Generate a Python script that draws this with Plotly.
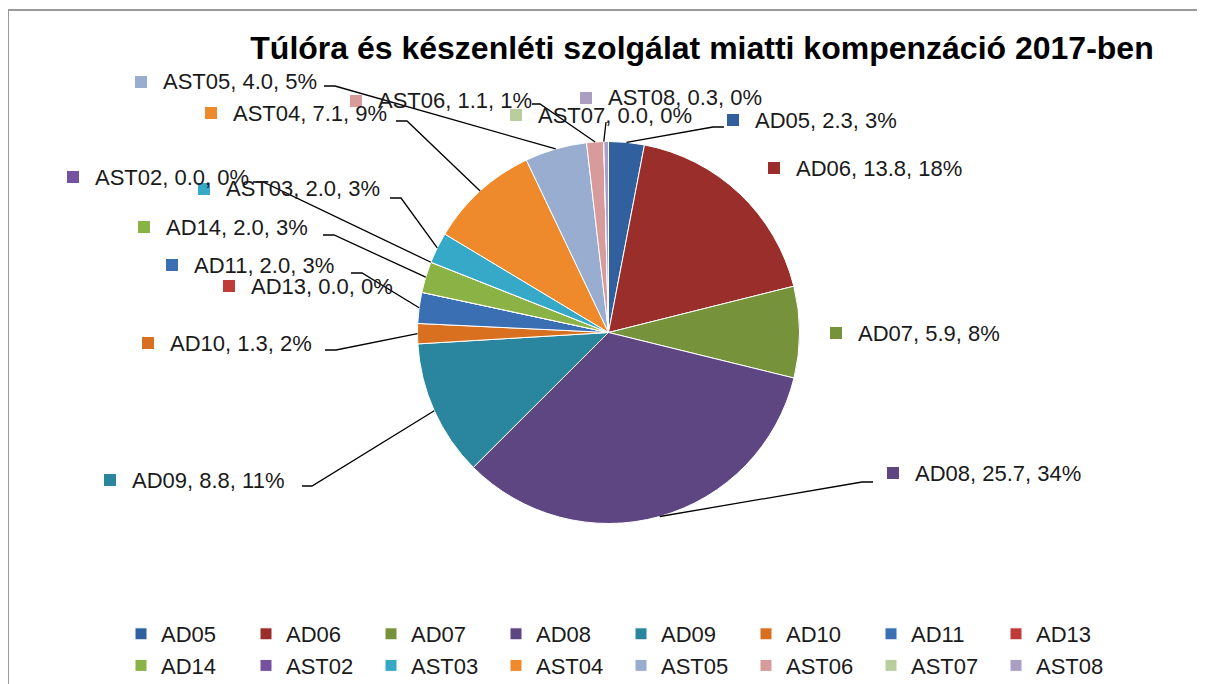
import math
import plotly.graph_objects as go

W, H = 1205, 684
ML, MR = 77, 78
PW = W - ML - MR
PAGE_OFF = 8  # default body margin of the html page

labels = ["AD05", "AD06", "AD07", "AD08", "AD09", "AD10", "AD11", "AD13",
          "AD14", "AST02", "AST03", "AST04", "AST05", "AST06", "AST07", "AST08"]
values = [2.3, 13.8, 5.9, 25.7, 8.8, 1.3, 2.0, 0.0,
          2.0, 0.0, 2.0, 7.1, 4.0, 1.1, 0.0, 0.3]
pct_labels = ["3%", "18%", "8%", "34%", "11%", "2%", "3%", "0%",
              "3%", "0%", "3%", "9%", "5%", "1%", "0%", "0%"]
colors = ["#30619E", "#992E2B", "#76933C", "#5E4683", "#2A869F", "#D8701F",
          "#3A6FB3", "#BE3B39", "#8AB245", "#7552A0", "#35A9C7", "#EF8A2C",
          "#99ADD0", "#D79B9B", "#BACD9C", "#AA9FC2"]

FONT = "Liberation Sans, Arial, sans-serif"

# pie geometry (px, as seen on the page)
CX, CY, R = 608.5, 332.5, 191

# label positions: marker square left x, centre y (px)
label_pos = {
    "AD05": (727, 120), "AD06": (768, 168), "AD07": (830, 333), "AD08": (887, 473),
    "AD09": (104, 480), "AD10": (142, 343), "AD11": (166, 265), "AD13": (223, 286),
    "AD14": (138, 227), "AST02": (67, 177), "AST03": (198, 189), "AST04": (205, 113),
    "AST05": (135, 82), "AST06": (350, 101), "AST07": (510, 115), "AST08": (580, 98),
}
# leader line points on the label side (px), the pie edge point comes from the data
leaders = {
    "AD05": [(724, 127), (713, 127)],
    "AD08": [(873, 482), (862, 482)],
    "AD09": [(302, 486), (312, 486)],
    "AD10": [(325, 350), (336, 350)],
    "AD11": [(351, 273), (362, 273)],
    "AD14": [(323, 235), (334, 235)],
    "AST02": [(253, 182), (263, 182)],
    "AST03": [(390, 198), (401, 198)],
    "AST04": [(396, 121), (407, 121)],
    "AST05": [(324, 86), (335, 86)],
    "AST06": [(532, 104), (540, 104)],
    "AST07": [(606, 122)],
}


def fx(x):
    return (x - PAGE_OFF - ML) / PW


def fy(y):
    return (H - (y - PAGE_OFF)) / H


fig = go.Figure(
    go.Pie(
        labels=labels,
        values=values,
        sort=False,
        direction="clockwise",
        rotation=0,
        textinfo="none",
        marker=dict(colors=colors, line=dict(color="white", width=1)),
        domain=dict(x=[fx(CX - R), fx(CX + R)], y=[fy(CY + R), fy(CY - R)]),
        hovertemplate="%{label}: %{value}<extra></extra>",
    )
)

total = sum(values)
cum = 0.0
shapes = [
    dict(type="rect", xref="paper", yref="paper",
         x0=fx(8), x1=fx(1230), y0=fy(720), y1=fy(10),
         line=dict(color="#9a9a9a", width=2), layer="below"),
]
annotations = []
for lab, v, pct, col in zip(labels, values, pct_labels, colors):
    frac = (cum + v / 2) / total
    cum += v
    ang = 2 * math.pi * frac
    ex, ey = CX + R * math.sin(ang), CY - R * math.cos(ang)

    mx, my = label_pos[lab]
    shapes.append(dict(type="rect", xref="paper", yref="paper",
                       x0=fx(mx), x1=fx(mx + 12), y0=fy(my + 6), y1=fy(my - 6),
                       fillcolor=col, line=dict(width=0)))
    annotations.append(dict(
        x=fx(mx + 26), y=fy(my), xref="paper", yref="paper",
        xanchor="left", yanchor="middle", showarrow=False,
        text=f"{lab}, {v:.1f}, {pct}",
        font=dict(family=FONT, size=22, color="#1a1a1a"),
    ))
    if lab in leaders:
        pts = leaders[lab] + [(ex, ey)]
        path = "M " + " L ".join(f"{fx(px)},{fy(py)}" for px, py in pts)
        shapes.append(dict(type="path", xref="paper", yref="paper", path=path,
                           line=dict(color="black", width=1.3)))

fig.update_layout(
    width=W,
    height=H,
    margin=dict(l=ML, r=MR, t=0, b=0),
    paper_bgcolor="white",
    plot_bgcolor="white",
    title=dict(
        text="<b>Túlóra és készenléti szolgálat miatti kompenzáció 2017-ben</b>",
        x=(702 - PAGE_OFF) / W, y=1 - (48 - PAGE_OFF) / H,
        xanchor="center", yanchor="middle",
        xref="container", yref="container",
        font=dict(family=FONT, size=32, color="black"),
    ),
    legend=dict(
        orientation="h",
        x=fx(121), y=fy(613), xanchor="left", yanchor="top",
        entrywidth=80,
        font=dict(family=FONT, size=22, color="#1a1a1a"),
        traceorder="normal",
    ),
    shapes=shapes,
    annotations=annotations,
)

fig.write_html("out.html")
